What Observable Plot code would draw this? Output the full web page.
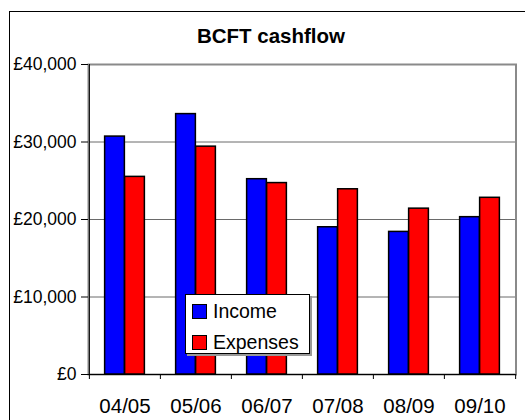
<!DOCTYPE html>
<html>
<head>
<meta charset="utf-8">
<script src="https://cdn.jsdelivr.net/npm/d3@7"></script>
<script src="https://cdn.jsdelivr.net/npm/@observablehq/plot@0.6"></script>
<style>
  html, body { margin: 0; padding: 0; background: #fff; overflow: hidden; width: 525px; height: 420px; }
  body { position: relative; font-family: "Liberation Sans", Arial, sans-serif; }
  #border { position: absolute; left: 9px; top: 11px; width: 700px; height: 600px; border: 1px solid #000; box-sizing: border-box; }
  #chart { position: absolute; left: 0; top: 0; }
  #title { position: absolute; left: 0; width: 542px; top: 24px; text-align: center; font-weight: bold; font-size: 20.5px; color: #000; }
  #legend { position: absolute; left: 185px; top: 294px; width: 125px; height: 60px; background: #fff; border: 1px solid #000; box-sizing: border-box; box-shadow: 2px 2px 0 #999; }
  .item { position: absolute; left: 6px; display: flex; align-items: center; font-size: 19.5px; color: #000; }
  .sw { width: 13px; height: 13px; border: 1px solid #000; margin-right: 6px; }
</style>
</head>
<body>
<div id="border"></div>
<div id="chart"></div>
<div id="title">BCFT cashflow</div>
<div id="legend"></div>
<script>
const periods = ["04/05", "05/06", "06/07", "07/08", "08/09", "09/10"];
const series = ["Income", "Expenses"];
const income = [30700, 33600, 25200, 19000, 18400, 20300];
const expenses = [25500, 29400, 24700, 23900, 21400, 22800];
const yTicks = [0, 10000, 20000, 30000, 40000];
const colors = ["#0000ff", "#ff0000"];

const W = 525, H = 420, mL = 88, mR = 9.5, mT = 64, mB = 46;
const step = (W - mL - mR) / periods.length;
const barW = 20;
const gap = (step - 2 * barW) / 2;

const incomeRows = periods.map((p, i) => ({period: p, series: "Income", value: income[i]}));
const expenseRows = periods.map((p, i) => ({period: p, series: "Expenses", value: expenses[i]}));
const fmt = d3.format(",");

const plot = Plot.plot({
  width: W, height: H,
  marginLeft: mL, marginRight: mR, marginTop: mT, marginBottom: mB,
  style: {background: "transparent", overflow: "visible", fontFamily: "Liberation Sans, Arial, sans-serif", color: "#000"},
  x: {domain: periods, padding: 0, label: null, axis: null},
  y: {domain: [0, 40000], label: null, axis: null},
  color: {domain: series, range: colors},
  marks: [
    Plot.ruleY(yTicks.filter(d => d > 0 && d < 40000), {stroke: "#6a6a6a", strokeWidth: 1}),
    Plot.frame({stroke: "#8a8a8a", strokeWidth: 2}),
    Plot.barY(incomeRows, {x: "period", y: "value", fill: "series", stroke: "#000", strokeWidth: 1.5, insetLeft: gap, insetRight: gap + barW}),
    Plot.barY(expenseRows, {x: "period", y: "value", fill: "series", stroke: "#000", strokeWidth: 1.5, insetLeft: gap + barW, insetRight: gap}),
    Plot.ruleY([0], {stroke: "#000", strokeWidth: 1}),
    Plot.ruleX([periods[0]], {dx: -step / 2, stroke: "#000", strokeWidth: 1}),
    Plot.axisY({ticks: yTicks, tickSize: 7, tickPadding: 5, tickFormat: d => "£" + fmt(d), fontSize: 17.5, label: null}),
    Plot.axisX({tickSize: 0, tickPadding: 24, fontSize: 20.5, label: null}),
    Plot.axisX({tickSize: 5, tickFormat: () => "", dx: -step / 2, label: null}),
    Plot.axisX({ticks: [periods[periods.length - 1]], tickSize: 5, tickFormat: () => "", dx: step / 2, label: null})
  ]
});
document.getElementById("chart").appendChild(plot);

const color = plot.scale("color");
const legend = d3.select("#legend");
series.forEach((s, i) => {
  const item = legend.append("div").attr("class", "item").style("top", (i === 0 ? 5 : 36) + "px");
  item.append("div").attr("class", "sw").style("background", color.apply(s));
  item.append("span").text(s);
});
</script>
</body>
</html>
